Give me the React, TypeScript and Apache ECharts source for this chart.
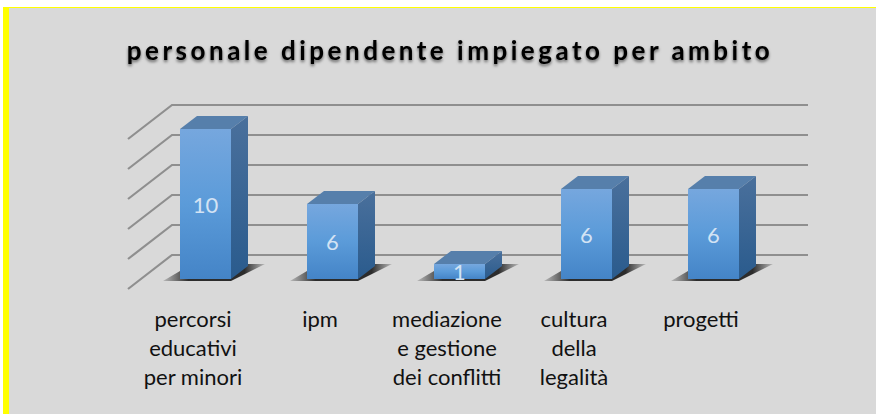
import React, { useEffect, useRef } from "react";
import * as echarts from "echarts";

const categories = ["percorsi\neducativi\nper minori", "ipm", "mediazione\ne gestione\ndei conflitti", "cultura\ndella\nlegalità", "progetti"];
const barHeights = [10, 5, 1, 6, 6];
const barLabels = ["10", "6", "1", "6", "6"];
const gridTicks = [0, 2, 4, 6, 8, 10];
const titleText = "personale dipendente impiegato per ambito";

export default function App() {
  const ref = useRef<HTMLDivElement>(null);
  useEffect(() => {
    const chart = echarts.init(ref.current!, null, { renderer: "svg" });
    const frontGrad = new echarts.graphic.LinearGradient(0, 0, 0, 1, [
      { offset: 0, color: "#76a7de" }, { offset: 0.5, color: "#5b9bd9" }, { offset: 1, color: "#4484c7" },
    ]);
    const sideGrad = new echarts.graphic.LinearGradient(0, 0, 0, 1, [
      { offset: 0, color: "#4a709c" }, { offset: 1, color: "#2a5b8d" },
    ]);
    const shadowGrad = new echarts.graphic.LinearGradient(0, 0, 1, 0, [
      { offset: 0, color: "rgba(50,50,50,0.2)" }, { offset: 0.25, color: "rgba(35,35,35,0.95)" }, { offset: 0.8, color: "rgba(35,35,35,0.95)" }, { offset: 1, color: "rgba(50,50,50,0.2)" },
    ]);
    chart.setOption({
      animation: false,
      backgroundColor: "#d9d9d9",
      title: {
        text: titleText, left: 445, top: 32, textAlign: "center",
        textStyle: { fontFamily: "Lato", fontWeight: "bold", fontSize: 26, color: "#000",
          textShadowColor: "rgba(0,0,0,0.55)", textShadowBlur: 3, textShadowOffsetY: 2 },
      },
      grid: { left: 142, width: 635, top: 129, height: 150 },
      xAxis: {
        type: "category", data: categories,
        axisLine: { show: false }, axisTick: { show: false },
        axisLabel: { interval: 0, fontFamily: "Lato", fontSize: 22, lineHeight: 29, color: "#111", margin: 25, padding: [0, 25, 0, 0] },
      },
      yAxis: { type: "value", min: 0, max: 10, interval: 2, axisLabel: { show: false }, axisLine: { show: false }, axisTick: { show: false }, splitLine: { show: false } },
      series: [
        {
          type: "custom", silent: true, data: gridTicks.map((v) => [0, v]), z: 1,
          renderItem: (_p: any, api: any) => {
            const c = api.coord([0, api.value(1)]);
            const band = api.size([1, 0])[0];
            const x0 = c[0] - band / 2;
            return {
              type: "polyline",
              shape: { points: [[x0 - 14, c[1] + 10], [x0 + 30, c[1] - 24], [x0 + 5 * band + 31, c[1] - 24]] },
              style: { stroke: "#8f8f8f", lineWidth: 2.2, fill: "none" },
            };
          },
        },
        {
          type: "custom", silent: true, data: barHeights.map((v, i) => [i, v]), z: 2,
          renderItem: (_p: any, api: any) => {
            const i = api.value(0);
            const t = api.coord([i, api.value(1)]);
            const b = api.coord([i, 0]);
            const w = 51, dx = 17, dy = 13;
            const l = t[0] - w / 2, r = t[0] + w / 2;
            return {
              type: "group",
              children: [
                { type: "polygon", shape: { points: [[l - 17, b[1] + 2], [r, b[1] + 2], [r + 34, b[1] - 15], [r + 16, b[1] - 15], [l, b[1] - 8]] },
                  style: { fill: shadowGrad } },
                { type: "polygon", shape: { points: [[l, t[1]], [r, t[1]], [r + dx, t[1] - dy], [l + dx, t[1] - dy]] }, style: { fill: "#567fab" } },
                { type: "polygon", shape: { points: [[r, t[1]], [r + dx, t[1] - dy], [r + dx, b[1] - dy], [r, b[1]]] }, style: { fill: sideGrad } },
                { type: "rect", shape: { x: l, y: t[1], width: w, height: b[1] - t[1] }, style: { fill: frontGrad } },
                { type: "text", style: { text: barLabels[i], x: t[0], y: (t[1] + b[1]) / 2, align: "center", verticalAlign: "middle",
                  fontFamily: "Lato", fontSize: 22, fill: "#d3e3f4" } },
              ],
            };
          },
        },
      ],
      graphic: [
        { type: "rect", left: 0, top: 0, z: 100, shape: { width: 876, height: 7 }, style: { fill: "#ffffff" } },
        { type: "rect", left: 0, top: 7, z: 100, shape: { width: 876, height: 1 }, style: { fill: "#ffff00" } },
        { type: "rect", left: 3, top: 7, z: 100, shape: { width: 6, height: 407 }, style: { fill: "#ffff00" } },
        { type: "rect", left: 0, top: 0, z: 100, shape: { width: 3, height: 414 }, style: { fill: "#ffffff" } },
      ],
    });
    ref.current!.querySelectorAll("text").forEach((el) => {
      if (el.textContent === titleText) (el as any).style.letterSpacing = "3.5px";
    });
    return () => chart.dispose();
  }, []);
  return <div ref={ref} style={{ position: "fixed", left: 0, top: 0, width: 876, height: 414 }} />;
}
